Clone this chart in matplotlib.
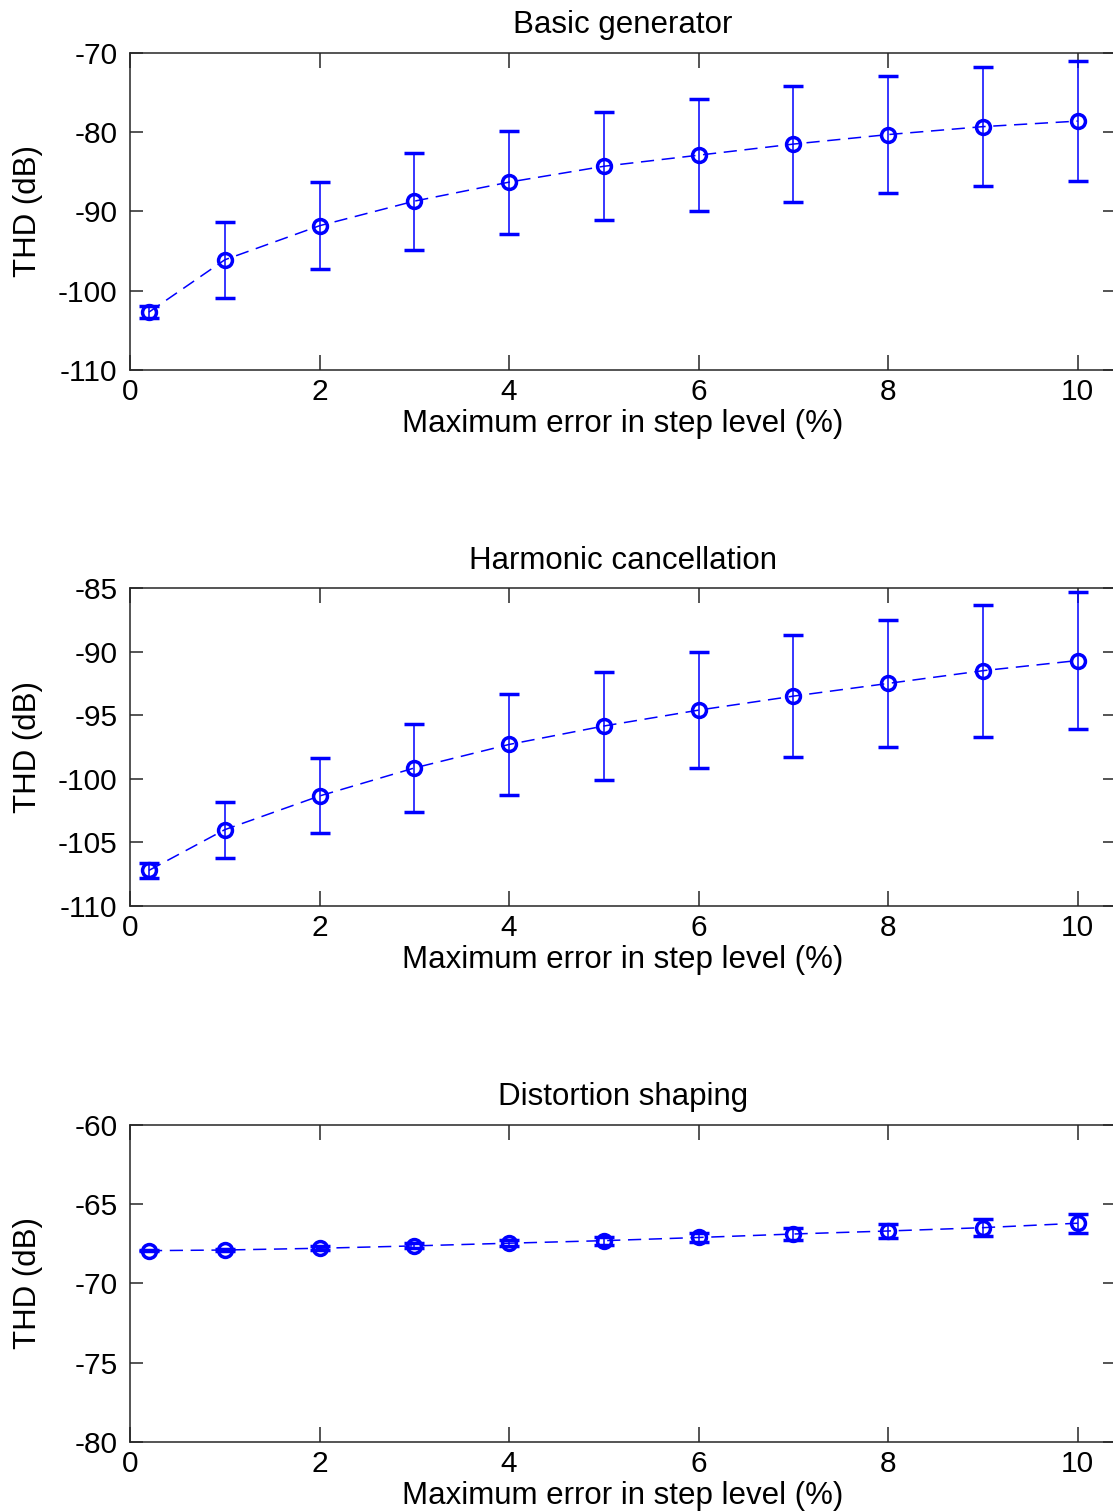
import numpy as np
import matplotlib.pyplot as plt

plt.rcParams['font.family'] = ['Liberation Sans', 'DejaVu Sans']
plt.rcParams['font.size'] = 21.5
plt.rcParams['axes.unicode_minus'] = False
plt.rcParams['lines.scale_dashes'] = False

# step-level error (%)
err_pct = [0.2, 1, 2, 3, 4, 5, 6, 7, 8, 9, 10]

# THD mean and spread for each generator type
thd_basic = [-102.7, -96.1, -91.8, -88.7, -86.3, -84.3, -82.9, -81.5, -80.3, -79.3, -78.6]
sd_basic = [0.8, 4.8, 5.5, 6.1, 6.5, 6.8, 7.1, 7.3, 7.4, 7.5, 7.6]

thd_cancel = [-107.2, -104.0, -101.35, -99.15, -97.3, -95.85, -94.6, -93.5, -92.5, -91.5, -90.7]
sd_cancel = [0.6, 2.2, 2.95, 3.45, 3.95, 4.25, 4.55, 4.8, 5.0, 5.2, 5.4]

thd_shaping = [-67.93, -67.89, -67.78, -67.63, -67.46, -67.3, -67.1, -66.88, -66.69, -66.48, -66.2]
sd_shaping = [0.05, 0.08, 0.12, 0.16, 0.2, 0.25, 0.3, 0.4, 0.47, 0.52, 0.6]

titles = ['Basic generator', 'Harmonic cancellation', 'Distortion shaping']
ylims = [(-110, -70), (-110, -85), (-80, -60)]
yticks = [np.arange(-110, -69, 10), np.arange(-110, -84, 5), np.arange(-80, -59, 5)]
series = [(thd_basic, sd_basic), (thd_cancel, sd_cancel), (thd_shaping, sd_shaping)]

fig = plt.figure(figsize=(11.13, 15.12), dpi=100)

# axes boxes in figure fractions, right edge runs just past the figure
rects = [
    [0.1168, 0.7553, 0.8856, 0.2097],
    [0.1168, 0.4008, 0.8856, 0.2103],
    [0.1168, 0.0463, 0.8856, 0.2097],
]

for rect, title, ylim, yt, (m, s) in zip(rects, titles, ylims, yticks, series):
    ax = fig.add_axes(rect)
    ax.errorbar(err_pct, m, yerr=s, color='blue', ecolor='blue', elinewidth=1.1,
                capsize=7.2, capthick=0.9, linestyle=(0, (9.5, 5.5)), linewidth=1.1,
                marker='o', markersize=10, markerfacecolor='none',
                markeredgewidth=2.5, markeredgecolor='blue')
    ax.set_xlim(0, 10.4)
    ax.set_ylim(*ylim)
    ax.set_xticks([0, 2, 4, 6, 8, 10])
    ax.set_yticks(yt)
    ax.tick_params(direction='in', top=True, right=True, colors='#262626',
                   labelcolor='black', width=1.1)
    ax.tick_params(axis='x', length=10.8, pad=6)
    ax.tick_params(axis='y', length=9.1, pad=9)
    for sp in ax.spines.values():
        sp.set_color('#262626')
        sp.set_linewidth(1.1)
    ax.set_title(title, fontsize=22.5, pad=14)
    ax.set_xlabel('Maximum error in step level (%)', fontsize=22.5, labelpad=2)
    ax.set_ylabel('THD (dB)', fontsize=22.5, va='center')
    # same label column for all three panels
    ax.yaxis.set_label_coords(-0.1035, 0.5)

fig.savefig('out.png', dpi=100)
